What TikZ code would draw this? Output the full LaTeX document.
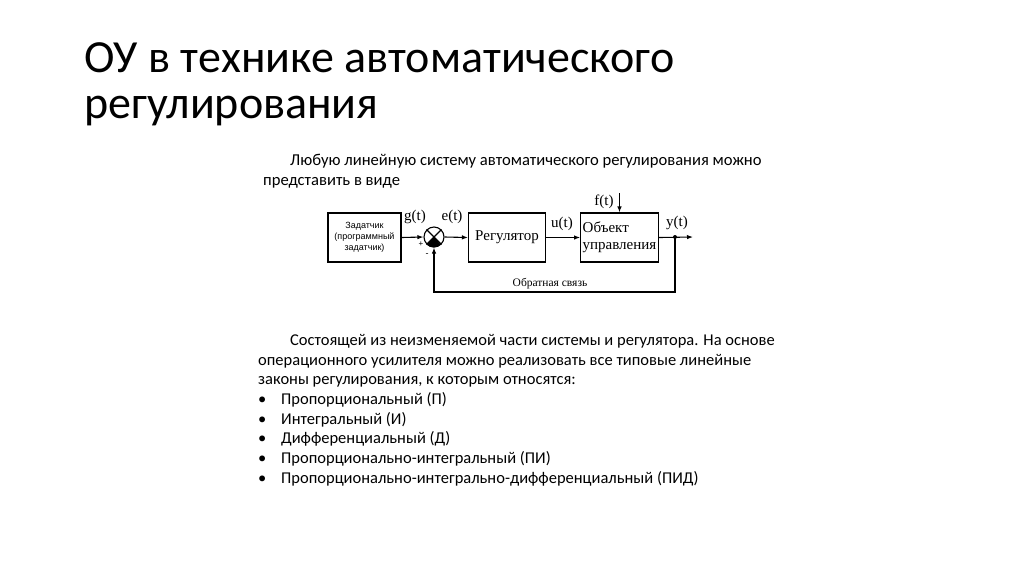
\documentclass[tikz,border=0pt]{standalone}
\usepackage{fontspec}
\setmainfont{Carlito}
\newfontfamily\timesfont{Liberation Serif}
\newfontfamily\arialfont{Liberation Sans}
\usetikzlibrary{positioning,arrows.meta,calc}

\begin{document}
\begin{tikzpicture}[x=1pt,y=-1pt,
  blk/.style={draw, line width=1.1pt, minimum width=#1, minimum height=49pt, inner sep=2pt,
    font=\timesfont\fontsize{15}{17}\selectfont},
  blk/.default=76pt,
  arr/.style={-{Latex[length=6pt,width=4.5pt]}, line width=1.1pt},
  lbl/.style={font=\timesfont\fontsize{15}{15}\selectfont, inner sep=0pt},
  txt/.style={align=left, anchor=north west, inner sep=0pt, font=\fontsize{16.6}{20}\selectfont}]
  \useasboundingbox (0,0) rectangle (1024,574);
  % title
  \node[anchor=base west, inner sep=0pt, align=left, font=\fontsize{46}{45.5}\selectfont] (title) at (84,118)
    {ОУ в технике автоматического\\регулирования};
  % text above the diagram
  \node[txt] (intro) at (263,154) {\hspace*{27pt}Любую линейную систему автоматического регулирования можно\\представить в виде};
  % block diagram
  \node[blk=73pt, align=center, font=\arialfont\fontsize{9}{11}\selectfont] (zad) at (364.5,237.5) {Задатчик\\(программный\\задатчик)};
  \node[draw, circle, line width=1.1pt, minimum size=20pt, inner sep=0pt] (sum) at (434,237) {};
  \fill (sum.center) -- (sum.south west) arc[start angle=225, end angle=315, radius=10pt] -- cycle;
  \draw[line width=1.1pt] (sum.north west) -- (sum.south east) (sum.north east) -- (sum.south west);
  \node[blk=77pt] (reg) at (507,237.5) {Регулятор};
  \node[blk=75pt, align=left] (obj) at (619.5,237.5) {Объект\\управления};
  \coordinate (jn) at (675,237);
  \coordinate (out) at (693,237);
  \coordinate (fin) at (619.5,193);
  \coordinate (fb) at (675,292);
  \draw[arr] (zad.east) -- (sum.west);
  \draw[arr] (sum.east) -- (reg.west);
  \draw[arr] (reg.east) -- (obj.west);
  \draw[arr] (obj.east) -- (out);
  \draw[arr] (fin) -- (obj.north);
  \draw[arr] (jn) -- (fb) -| (sum.south);
  \fill (jn) circle (2pt);
  \node[lbl] (g) at (415,217) {g(t)};
  \node[lbl] (e) at (452,217) {e(t)};
  \node[lbl] (u) at (562,224) {u(t)};
  \node[lbl] (y) at (677,223) {y(t)};
  \node[lbl] (f) at (604,202) {f(t)};
  \node[lbl, font=\arialfont\fontsize{8}{8}\selectfont] (plus) at (421,244) {+};
  \node[lbl, font=\arialfont\fontsize{9}{9}\selectfont] (minus) at (427,255) {-};
  \node[lbl, font=\timesfont\fontsize{11.5}{12}\selectfont] (fbl) at (550,284) {Обратная связь};
  % text below the diagram
  \node[txt, font=\fontsize{16.5}{19.7}\selectfont] (laws) at (258,334)
    {\hspace*{32pt}Состоящей из неизменяемой части системы и регулятора. На основе\\
     операционного усилителя можно реализовать все типовые линейные\\
     законы регулирования, к которым относятся:\\
     \makebox[23pt][l]{•}Пропорциональный (П)\\
     \makebox[23pt][l]{•}Интегральный (И)\\
     \makebox[23pt][l]{•}Дифференциальный (Д)\\
     \makebox[23pt][l]{•}Пропорционально-интегральный (ПИ)\\
     \makebox[23pt][l]{•}Пропорционально-интегрально-дифференциальный (ПИД)};
\end{tikzpicture}
\end{document}
